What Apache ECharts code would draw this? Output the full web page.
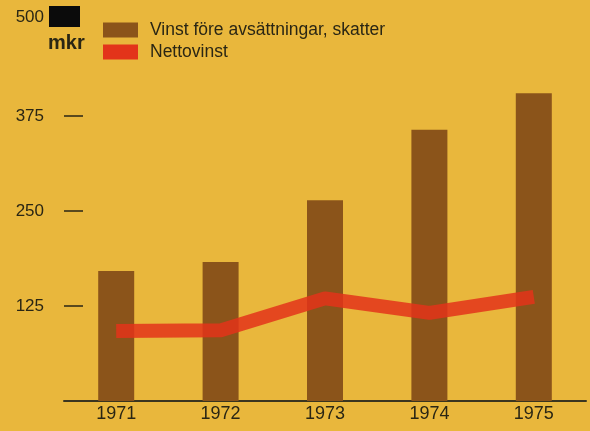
<!DOCTYPE html>
<html>
<head>
<meta charset="utf-8">
<script src="https://cdn.jsdelivr.net/npm/echarts@6/dist/echarts.min.js"></script>
<style>
  html, body { margin: 0; padding: 0; background: #E9B73C; }
  #chart { width: 590px; height: 431px; }
</style>
</head>
<body>
<div id="chart"></div>
<script>
const years = ['1971', '1972', '1973', '1974', '1975'];
const vinstForeSkatter = [171, 183, 264, 357, 405];
const nettovinst = [92, 93, 135, 116, 137];
const tickValues = [125, 250, 375];
const labelValues = [125, 250, 375, 500];

const textColor = '#2a2614';
const font = 'Liberation Sans, Arial, sans-serif';

const chart = echarts.init(document.getElementById('chart'));
chart.setOption({
  backgroundColor: '#E9B73C',
  animation: false,
  textStyle: { fontFamily: font },
  grid: { left: 64, right: 4, top: 21, bottom: 30 },
  legend: {
    orient: 'vertical',
    left: 103,
    top: 19,
    padding: 0,
    itemWidth: 35,
    itemHeight: 15,
    itemGap: 0,
    icon: 'rect',
    textStyle: {
      color: textColor, fontSize: 17.5, lineHeight: 15, fontFamily: font, padding: [7, 0, 0, 7],
    },
    data: ['Vinst före avsättningar, skatter', 'Nettovinst'],
  },
  xAxis: {
    type: 'category',
    data: years,
    axisLine: { lineStyle: { color: '#3a3520', width: 2 } },
    axisTick: { show: false },
    axisLabel: { color: textColor, fontSize: 18, margin: 4 },
  },
  yAxis: {
    type: 'value',
    min: 0,
    max: 500,
    interval: 125,
    splitLine: { show: false },
    axisLine: { show: false },
    axisTick: {
      show: true,
      inside: true,
      length: 19,
      customValues: tickValues,
      lineStyle: { color: '#2a2614', width: 1.5 },
    },
    axisLabel: {
      color: textColor,
      fontSize: 17,
      margin: 20,
      customValues: labelValues,
      formatter(value) {
        return value === 500 ? `{top|${value}}` : `${value}`;
      },
      rich: {
        top: { fontSize: 17, color: textColor, padding: [0, 0, 7, 0] },
      },
    },
  },
  graphic: [
    { type: 'rect', left: 49, top: 6, shape: { width: 31, height: 21 }, style: { fill: '#0b0b0b' } },
    { type: 'text', left: 48, top: 33, style: { text: 'mkr', fill: textColor, font: 'bold 20px ' + font } },
  ],
  series: [
    {
      name: 'Vinst före avsättningar, skatter',
      type: 'bar',
      data: vinstForeSkatter,
      barWidth: 36,
      itemStyle: { color: '#8B541A' },
    },
    {
      name: 'Nettovinst',
      type: 'line',
      data: nettovinst,
      symbol: 'none',
      itemStyle: { color: '#E3341A' },
      lineStyle: { color: '#E3341A', width: 14, cap: 'butt', join: 'round', opacity: 0.85 },
    },
  ],
});
</script>
</body>
</html>
